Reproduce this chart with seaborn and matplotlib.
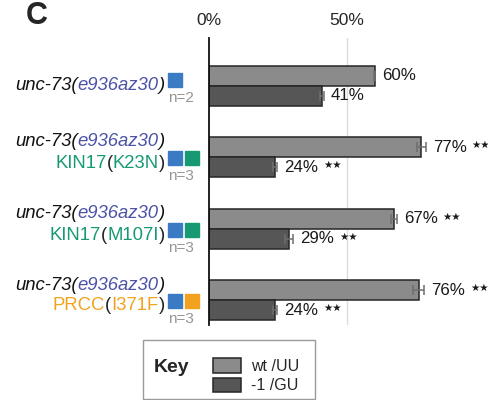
import matplotlib
matplotlib.use("Agg")
import matplotlib.pyplot as plt
import seaborn as sns
import pandas as pd
from matplotlib.patches import Rectangle

# data
strains = ["A", "B", "C", "D"]
series = ["wt /UU", "-1 /GU"]
wt_vals = [60, 77, 67, 76]
fs_vals = [41, 24, 29, 24]
wt_err = [0.3, 1.5, 1.0, 2.0]
fs_err = [0.6, 0.8, 1.5, 0.7]
stars_wt = ["", "★★", "★★", "★★"]
stars_fs = ["", "★★", "★★", "★★"]
n_labels = ["n=2", "n=3", "n=3", "n=3"]
allele_lines = [None, ("KIN17", "K23N"), ("KIN17", "M107I"), ("PRCC", "I371F")]
square_colors = [["#3b7bc4"], ["#3b7bc4", "#179a74"], ["#3b7bc4", "#179a74"], ["#3b7bc4", "#f2a21e"]]
allele_colors = [None, "#179a74", "#179a74", "#f2a21e"]

df = pd.DataFrame({
    "strain": strains * 2,
    "series": [series[0]] * 4 + [series[1]] * 4,
    "value": wt_vals + fs_vals,
    "err": wt_err + fs_err,
})

sns.set_style("white")
plt.rcParams["font.family"] = ["Liberation Sans", "DejaVu Sans"]

W, H = 489, 400
fig = plt.figure(figsize=(W / 100, H / 100), dpi=100)
ax = fig.add_axes([209 / W, 1 - 325 / H, 1 - 209 / W, (325 - 38) / H])

bar_colors = ["#8b8b8b", "#565656"]
sns.barplot(data=df, y="strain", x="value", hue="series", hue_order=series,
            palette=bar_colors, orient="h", width=0.56, errorbar=None,
            edgecolor="#262626", linewidth=1.1, ax=ax, legend=True)

# error bars and value labels
for cont, errs, vals, stars in zip(ax.containers, [wt_err, fs_err],
                                   [wt_vals, fs_vals], [stars_wt, stars_fs]):
    for bar, e, v, s in zip(cont, errs, vals, stars):
        yc = bar.get_y() + bar.get_height() / 2
        ax.errorbar(v, yc, xerr=e, fmt="none", ecolor="#6e6e6e", elinewidth=1.1,
                    capsize=3.5, capthick=1.1, zorder=5)
        t = ax.text(v + e + 2.6, yc, f"{v}%", ha="left", va="center", fontsize=12.2,
                    color="#1a1a1a")
        if s:
            ax.annotate(s, xy=(1, 0.5), xycoords=t, xytext=(3.5, 1.5), textcoords="offset points",
                        ha="left", va="center", fontsize=7.5, family="DejaVu Sans",
                        color="#1a1a1a")

ax.set_xlim(0, 101.5)
ax.set_ylim(3.35, -0.67)
ax.set_xticks([0, 50])
ax.set_xticklabels(["0%", "50%"], fontsize=12.5)
ax.xaxis.tick_top()
ax.tick_params(axis="x", length=0, pad=7)
ax.set_yticks([])
ax.set_xlabel("")
ax.set_ylabel("")
ax.axvline(50, color="#dcdcdc", lw=1.0, zorder=0)
for sp in ["top", "right", "bottom"]:
    ax.spines[sp].set_visible(False)
ax.spines["left"].set_color("#111111")
ax.spines["left"].set_linewidth(1.3)

# legend
handles, labels = ax.get_legend_handles_labels()
ax.get_legend().remove()
fig.legend(handles, labels, loc="upper left", bbox_to_anchor=(199 / W, 1 - 344 / H),
           frameon=False, fontsize=11.5, handlelength=1.75, handleheight=1.0,
           handletextpad=0.6, labelspacing=0.22)
fig.patches.append(Rectangle((143 / W, 1 - 399 / H), (315 - 143) / W, (399 - 340) / H,
                             transform=fig.transFigure, fill=False, edgecolor="#9a9a9a",
                             lw=1.0))
fig.text(154 / W, 1 - 368 / H, "Key", fontsize=14, fontweight="bold", va="center")

fig.text(26 / W, 1 - 16 / H, "C", fontsize=22, fontweight="bold", va="center")

# strain labels built from coloured pieces
fig.canvas.draw()
renderer = fig.canvas.get_renderer()


def draw_pieces(x_right, y, pieces, fs=13.3):
    objs = []
    for s, col, style in pieces:
        t = fig.text(0, y, s, fontsize=fs, color=col, style=style,
                     va="center", ha="left", transform=None)
        objs.append(t)
    widths = [t.get_window_extent(renderer).width for t in objs]
    x = x_right - sum(widths)
    for t, w in zip(objs, widths):
        t.set_position((x, y))
        x += w


group_y = [86, 157, 229, 300]
for i in range(4):
    yc = group_y[i]
    first = [("unc-73(", "#111111", "italic"), ("e936az30", "#4c53a6", "italic"),
             (")", "#111111", "italic")]
    if allele_lines[i] is None:
        draw_pieces(165, H - yc, first)
        sq_y = yc - 6
    else:
        draw_pieces(165, H - (yc - 15), first)
        gene, mut = allele_lines[i]
        c = allele_colors[i]
        draw_pieces(165, H - (yc + 6), [(gene, c, "normal"), ("(", "#222222", "normal"),
                                       (mut, c, "normal"), (")", "#222222", "normal")])
        sq_y = yc + 1
    for k, sc in enumerate(square_colors[i]):
        fig.patches.append(Rectangle(((168 + 17 * k) / W, 1 - (sq_y + 7) / H), 14 / W, 14 / H,
                                     transform=fig.transFigure, color=sc))
    fig.text(168 / W, 1 - (sq_y + 18) / H, n_labels[i], fontsize=11, color="#949494",
             va="center", ha="left")

fig.savefig("out.png", dpi=100)
